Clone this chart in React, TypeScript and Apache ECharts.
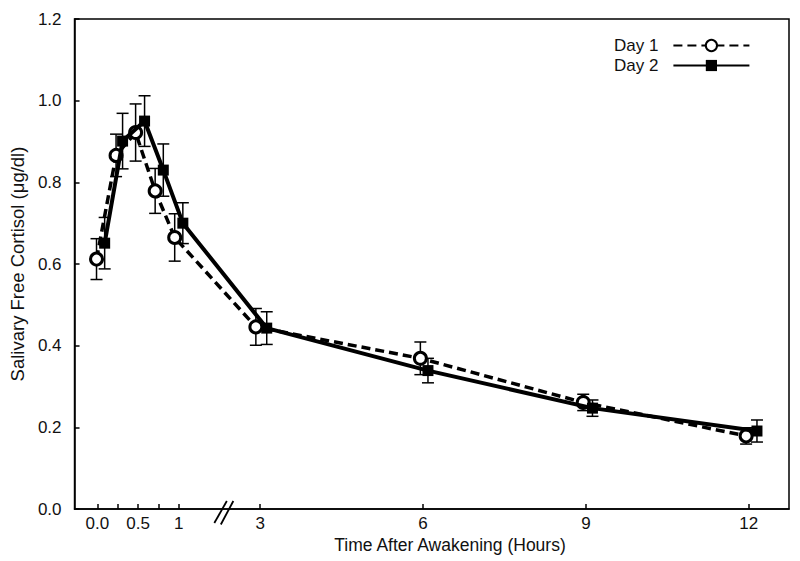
import React, { useEffect, useRef } from "react";
import * as echarts from "echarts";

// Sampling times (hours after awakening), slightly jittered as in the figure
const day1Hours = [-0.01, 0.23, 0.47, 0.71, 0.95, 2.92, 5.95, 8.95, 11.95];
const day1Cortisol = [0.612, 0.866, 0.922, 0.779, 0.665, 0.446, 0.369, 0.261, 0.179];
const day1Err = [0.05, 0.052, 0.07, 0.055, 0.058, 0.045, 0.04, 0.02, 0.02];

const day2Hours = [0.09, 0.31, 0.58, 0.81, 1.05, 3.12, 6.09, 9.12, 12.15];
const day2Cortisol = [0.651, 0.901, 0.95, 0.83, 0.7, 0.443, 0.339, 0.247, 0.191];
const day2Err = [0.063, 0.068, 0.062, 0.064, 0.05, 0.04, 0.03, 0.02, 0.027];

const labelHours = [0, 0.5, 1, 3, 6, 9, 12];
const labelTexts = ["0.0", "0.5", "1", "3", "6", "9", "12"];
const minorTickHours = [0.25, 0.75];
const yTicks = [0, 0.2, 0.4, 0.6, 0.8, 1.0, 1.2];

// broken axis: first hour is stretched 1.5x, then a break to 3 h
const toAxis = (h: number) => (h <= 1.5 ? h * 1.5 : h);
const BREAK_AT = 2.33;

const FONT = "'Liberation Sans', Arial, Helvetica, sans-serif";
const INK = "#111";

export default function App() {
  const ref = useRef<HTMLDivElement>(null);
  useEffect(() => {
    if (!ref.current) return;
    const chart = echarts.init(ref.current, undefined, { renderer: "svg" });

    const labelMap: Record<string, string> = {};
    labelHours.forEach((h, i) => (labelMap[String(toAxis(h))] = labelTexts[i]));
    const tickVals = [...labelHours, ...minorTickHours].map(toAxis).sort((a, b) => a - b);

    const lineData = (hs: number[], vs: number[]) => hs.map((h, i) => [toAxis(h), vs[i]]);
    const errData = (hs: number[], vs: number[], es: number[]) =>
      hs.map((h, i) => [toAxis(h), vs[i], es[i]]);

    const errRender = (params: any, api: any) => {
      const x = api.value(0);
      const y = api.value(1);
      const e = api.value(2);
      const t = api.coord([x, y + e]);
      const b = api.coord([x, y - e]);
      const w = 6;
      const st = { stroke: "#000", lineWidth: 1.5 };
      return {
        type: "group",
        children: [
          { type: "line", shape: { x1: t[0], y1: t[1], x2: b[0], y2: b[1] }, style: st },
          { type: "line", shape: { x1: t[0] - w, y1: t[1], x2: t[0] + w, y2: t[1] }, style: st },
          { type: "line", shape: { x1: b[0] - w, y1: b[1], x2: b[0] + w, y2: b[1] }, style: st },
        ],
      };
    };

    chart.setOption({
      animation: false,
      backgroundColor: "#fff",
      textStyle: { fontFamily: FONT, color: INK },
      grid: {
        left: 73,
        right: 11,
        top: 19,
        bottom: 52,
        show: true,
        borderColor: "#000",
        borderWidth: 1.5,
        backgroundColor: "transparent",
      },
      legend: {
        data: ["Day 1", "Day 2"],
        orient: "vertical",
        align: "right",
        left: 609,
        top: 32,
        itemWidth: 76,
        itemHeight: 14,
        itemGap: 3,
        textStyle: { fontSize: 17, color: INK, fontFamily: FONT, padding: [0, 10, 0, 0] },
        inactiveColor: "#000",
      },
      xAxis: {
        type: "value",
        min: -0.42,
        max: 12.74,
        splitLine: { show: false },
        axisLine: { show: true, onZero: false, lineStyle: { color: "#000", width: 1.5 } },
        axisTick: {
          show: true,
          inside: true,
          length: 5,
          customValues: tickVals,
          lineStyle: { color: "#000", width: 1.5 },
        },
        axisLabel: {
          show: true,
          customValues: labelHours.map(toAxis),
          formatter: (v: number) => labelMap[String(v)] ?? "",
          fontSize: 17,
          color: INK,
          fontFamily: FONT,
          margin: 6,
        },
      },
      yAxis: {
        type: "value",
        min: 0,
        max: 1.2,
        interval: 0.2,
        splitLine: { show: false },
        axisLine: { show: true, onZero: false, lineStyle: { color: "#000", width: 1.5 } },
        axisTick: { show: true, inside: true, length: 5, lineStyle: { color: "#000", width: 1.5 } },
        axisLabel: {
          formatter: (v: number) => v.toFixed(1),
          fontSize: 17,
          color: INK,
          fontFamily: FONT,
          margin: 13,
          customValues: yTicks,
        },
        name: "Salivary Free Cortisol (\u03bcg/dl)",
        nameLocation: "middle",
        nameGap: 40,
        nameTextStyle: { fontSize: 18.5, color: INK, fontFamily: FONT },
      },
      series: [
        {
          name: "Day 1 SE",
          type: "custom",
          renderItem: errRender,
          data: errData(day1Hours, day1Cortisol, day1Err),
          encode: { x: 0, y: 1 },
          z: 1,
          silent: true,
        },
        {
          name: "Day 2 SE",
          type: "custom",
          renderItem: errRender,
          data: errData(day2Hours, day2Cortisol, day2Err),
          encode: { x: 0, y: 1 },
          z: 1,
          silent: true,
        },
        {
          name: "Day 1",
          type: "line",
          data: lineData(day1Hours, day1Cortisol),
          symbol: "circle",
          symbolSize: 12,
          lineStyle: { color: "#000", width: 3.5, type: [9, 5] },
          itemStyle: { color: "#fff", borderColor: "#000", borderWidth: 3 },
          z: 3,
        },
        {
          name: "Day 2",
          type: "line",
          data: lineData(day2Hours, day2Cortisol),
          symbol: "rect",
          symbolSize: 11,
          lineStyle: { color: "#000", width: 4 },
          itemStyle: { color: "#000", borderColor: "#000", borderWidth: 0 },
          z: 4,
        },
      ],
    });

    const bp = chart.convertToPixel({ gridIndex: 0 }, [BREAK_AT, 0]) as number[];
    const bx = bp[0];
    const by = bp[1];
    chart.setOption({
      graphic: [
        {
          type: "line",
          shape: { x1: bx - 9.5, y1: by + 14, x2: bx + 3, y2: by - 8 },
          style: { stroke: "#000", lineWidth: 1.8 },
          z: 10,
        },
        {
          type: "line",
          shape: { x1: bx - 3, y1: by + 15.5, x2: bx + 9.5, y2: by - 8 },
          style: { stroke: "#000", lineWidth: 1.8 },
          z: 10,
        },
        {
          type: "text",
          x: 450,
          y: 545,
          style: {
            text: "Time After Awakening (Hours)",
            font: `17.5px ${FONT}`,
            fill: INK,
            textAlign: "center",
            textVerticalAlign: "middle",
          },
        },
      ],
    });

    return () => chart.dispose();
  }, []);

  return (
    <div
      ref={ref}
      style={{ position: "absolute", left: 0, top: 0, width: 800, height: 561, background: "#fff" }}
    />
  );
}
